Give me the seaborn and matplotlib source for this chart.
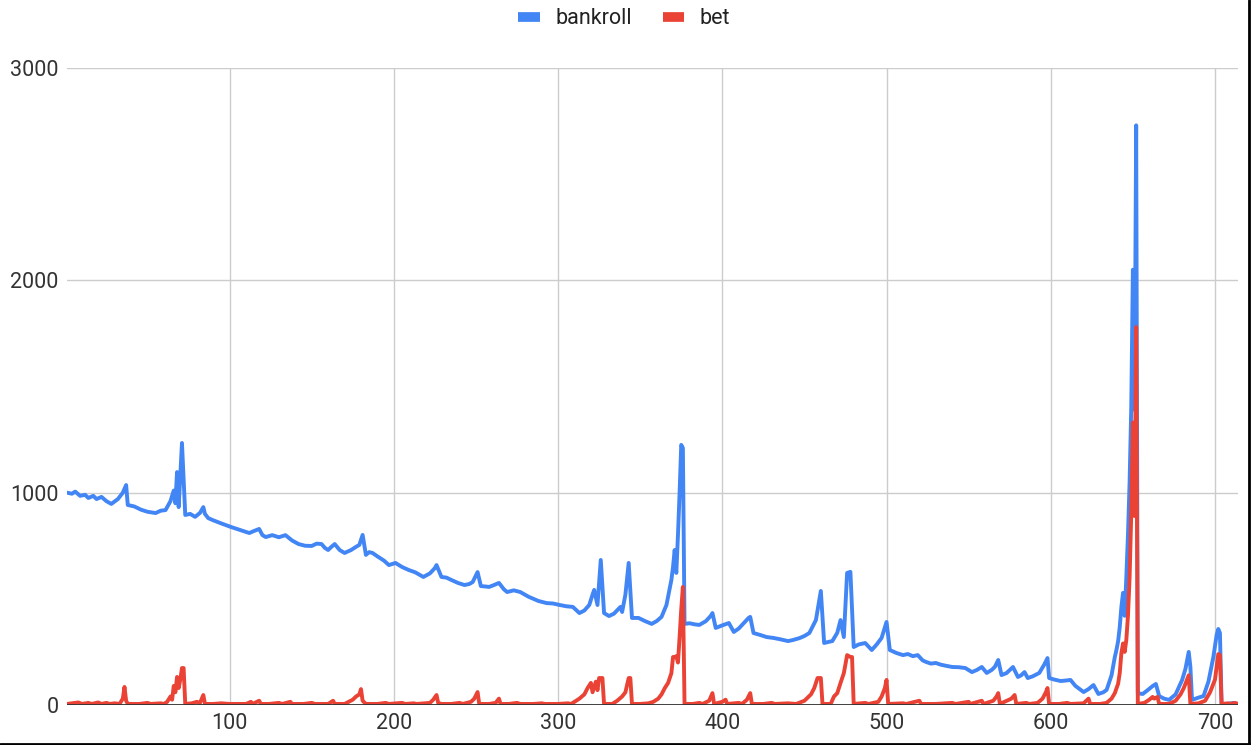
import matplotlib

matplotlib.use("Agg")
import matplotlib.pyplot as plt
import seaborn as sns
from matplotlib.lines import Line2D

# bankroll: hand-read keypoints (x = round, y = bankroll)
bank_x = [1, 4, 6, 9, 12, 14, 17, 19, 22, 25, 28, 32, 35, 37, 38, 42, 46, 50, 55, 58,
          61, 64, 66, 67, 68, 69, 71, 73, 76, 79, 82, 84, 85, 87, 90, 95, 101, 106, 110, 112,
          115, 118, 120, 122, 126, 130, 134, 138, 142, 146, 150, 153, 156, 158, 160, 162, 164, 167, 170, 174,
          177, 179, 181, 183, 185, 187, 190, 194, 197, 201, 205, 209, 213, 218, 222, 225, 226, 229, 232, 235,
          239, 243, 246, 248, 251, 253, 256, 258, 261, 264, 267, 269, 273, 277, 282, 288, 293, 297, 301, 305,
          309, 313, 316, 319, 321, 322, 324, 326, 328, 331, 334, 338, 339, 341, 343, 345, 349, 353, 357, 360,
          363, 366, 369, 370, 371, 372, 373, 374, 375, 376, 377, 380, 383, 386, 390, 393, 394, 396, 400, 404,
          407, 410, 413, 416, 417, 419, 423, 427, 431, 435, 440, 443, 447, 450, 453, 455, 457, 460, 462, 464,
          467, 470, 472, 474, 476, 478, 480, 483, 487, 491, 494, 497, 500, 502, 506, 510, 513, 516, 519, 522,
          524, 527, 530, 533, 536, 540, 544, 548, 552, 555, 558, 561, 564, 566, 568, 570, 573, 577, 580, 582,
          584, 586, 589, 593, 596, 598, 599, 602, 606, 609, 612, 615, 620, 623, 626, 629, 632, 634, 637, 639,
          640, 641, 642, 643, 644, 645, 646, 647, 648, 649, 650, 651, 652, 653, 656, 659, 662, 664, 666, 669,
          672, 676, 680, 682, 684, 685, 686, 690, 693, 696, 699, 701, 702, 703, 704, 708, 711, 714]
bank_y = [1000, 995, 1005, 985, 990, 975, 985, 970, 980, 960, 947, 970, 1000, 1036, 942, 935, 920, 910, 904, 915,
          918, 960, 1010, 950, 1097, 932, 1234, 895, 900, 886, 905, 932, 900, 880, 870, 855, 838, 825, 815, 810,
          820, 829, 800, 791, 800, 790, 800, 775, 758, 750, 749, 760, 758, 740, 730, 745, 758, 730, 716, 730,
          745, 754, 801, 707, 720, 716, 700, 680, 659, 669, 650, 636, 625, 603, 620, 645, 659, 603, 600, 589,
          575, 565, 570, 579, 626, 560, 558, 556, 565, 575, 545, 532, 540, 532, 510, 490, 480, 478, 471, 465,
          462, 433, 445, 471, 520, 542, 471, 683, 433, 419, 430, 462, 438, 520, 669, 410, 410, 395, 382, 395,
          415, 471, 589, 650, 730, 622, 800, 1000, 1225, 1210, 382, 385, 380, 377, 395, 420, 433, 363, 375, 386,
          344, 360, 385, 410, 415, 339, 330, 320, 316, 310, 301, 306, 315, 325, 339, 370, 400, 537, 292, 296,
          301, 340, 400, 320, 622, 627, 273, 285, 292, 259, 285, 316, 391, 259, 245, 235, 240, 230, 235, 210,
          203, 195, 198, 190, 185, 179, 178, 174, 155, 165, 179, 151, 165, 180, 212, 141, 150, 179, 132, 140,
          155, 127, 135, 151, 190, 221, 127, 120, 113, 115, 118, 90, 61, 75, 94, 52, 60, 71, 140, 226,
          260, 300, 367, 462, 528, 420, 600, 800, 1050, 1400, 2050, 1390, 2730, 55, 52, 70, 89, 99, 42, 30,
          24, 50, 118, 170, 250, 180, 24, 35, 42, 110, 226, 330, 358, 339, 5, 5, 10, 5]

# bet: hand-read keypoints
bet_x = [1, 4, 8, 10, 14, 16, 20, 22, 25, 27, 30, 33, 35, 36, 37, 38, 45, 50, 52, 58,
         60, 62, 64, 65, 66, 67, 68, 69, 70, 71, 72, 73, 77, 80, 82, 84, 85, 90, 95, 100,
         110, 113, 114, 118, 119, 124, 130, 132, 137, 138, 145, 150, 152, 160, 163, 164, 170, 175, 177, 179,
         180, 181, 183, 190, 195, 197, 205, 207, 212, 214, 222, 224, 226, 227, 229, 235, 240, 242, 247, 249,
         251, 252, 258, 262, 264, 265, 270, 275, 277, 285, 290, 292, 300, 306, 308, 313, 316, 318, 320, 321,
         323, 324, 325, 327, 328, 333, 336, 339, 341, 343, 344, 345, 350, 355, 358, 361, 363, 365, 367, 369,
         370, 371, 372, 373, 374, 375, 376, 377, 382, 386, 388, 392, 394, 395, 400, 402, 403, 410, 412, 415,
         417, 418, 425, 430, 432, 440, 445, 450, 452, 454, 456, 458, 460, 461, 466, 468, 470, 472, 474, 476,
         478, 479, 480, 487, 489, 495, 497, 499, 500, 501, 510, 512, 520, 521, 530, 540, 542, 550, 551, 558,
         559, 565, 567, 568, 569, 576, 578, 579, 585, 587, 592, 595, 597, 598, 599, 605, 610, 612, 620, 623,
         624, 630, 634, 637, 639, 641, 642, 643, 644, 645, 646, 647, 648, 649, 650, 651, 652, 653, 657, 660,
         662, 663, 665, 666, 672, 676, 679, 681, 683, 684, 685, 690, 694, 697, 700, 702, 703, 704, 708, 710,
         712, 714]
bet_y = [5, 8, 12, 5, 10, 5, 12, 5, 10, 5, 8, 5, 30, 85, 20, 5, 5, 10, 5, 8,
         5, 15, 40, 25, 90, 60, 132, 80, 120, 174, 174, 5, 8, 15, 10, 47, 5, 5, 8, 5,
         5, 15, 5, 20, 5, 5, 10, 5, 15, 5, 5, 10, 5, 5, 20, 5, 5, 25, 40, 50,
         75, 20, 5, 5, 10, 5, 10, 5, 8, 5, 10, 25, 47, 10, 5, 5, 10, 5, 15, 30,
         61, 5, 5, 10, 30, 5, 5, 10, 5, 5, 8, 5, 5, 8, 5, 30, 50, 80, 104, 60,
         110, 70, 127, 127, 5, 5, 20, 40, 60, 127, 127, 5, 5, 8, 15, 30, 50, 80, 104, 150,
         226, 226, 230, 200, 320, 450, 556, 5, 5, 10, 5, 20, 56, 5, 15, 25, 5, 10, 5, 25,
         56, 5, 5, 10, 5, 8, 5, 20, 35, 50, 80, 127, 127, 5, 5, 40, 56, 104, 150, 235,
         226, 226, 5, 10, 5, 15, 40, 80, 118, 5, 8, 5, 20, 5, 5, 10, 5, 15, 5, 20,
         5, 20, 40, 56, 5, 30, 47, 5, 10, 5, 10, 30, 60, 80, 5, 5, 10, 5, 8, 30,
         5, 5, 10, 30, 56, 100, 151, 245, 290, 250, 306, 420, 600, 900, 1330, 890, 1780, 5, 10, 25,
         38, 30, 38, 5, 5, 20, 50, 80, 120, 140, 5, 8, 20, 60, 120, 240, 235, 5, 8, 5,
         10, 5]

series_names = ["bankroll", "bet"]
series_colors = ["#4285F4", "#EA4335"]
y_ticks = [0, 1000, 2000, 3000]
x_ticks = [100, 200, 300, 400, 500, 600, 700]

sns.set_style("white")
plt.rcParams["font.family"] = ["Roboto", "Liberation Sans", "DejaVu Sans"]

fig = plt.figure(figsize=(12.51, 7.45), dpi=100)
ax = fig.add_axes([67 / 1251, 40 / 745, (1238 - 67) / 1251, (705 - 68) / 745])

sns.lineplot(x=bank_x, y=bank_y, ax=ax, color=series_colors[0], lw=2.8, sort=False,
             estimator=None, zorder=3)
sns.lineplot(x=bet_x, y=bet_y, ax=ax, color=series_colors[1], lw=2.8, sort=False,
             estimator=None, zorder=4)

ax.set_xlim(1, 714)
ax.set_ylim(0, 3000)
ax.set_xticks(x_ticks)
ax.set_yticks(y_ticks)
ax.grid(True, color="#cccccc", lw=1)
ax.axhline(0, color="#333333", lw=1.3, zorder=5)
for s in ax.spines.values():
    s.set_visible(False)
ax.tick_params(length=0, labelsize=15.5, labelcolor="#333333")
ax.tick_params(axis="y", pad=6)
ax.tick_params(axis="x", pad=6)
ax.set_xlabel("")
ax.set_ylabel("")

handles = [Line2D([0], [0], color=c, lw=7, solid_capstyle="butt") for c in series_colors]
fig.legend(handles, series_names, loc="center", bbox_to_anchor=(0.499, 0.975), ncol=2,
           frameon=False, fontsize=15.5, handlelength=1.0, handletextpad=0.7, columnspacing=1.45,
           labelcolor="#222222")

# screenshot frame on right and bottom edges
fig.add_artist(Line2D([0.9985, 0.9985], [0, 1], transform=fig.transFigure, color="black", lw=2))
fig.add_artist(Line2D([0, 1], [0.002, 0.002], transform=fig.transFigure, color="black", lw=2))

fig.savefig("out.png", dpi=100)
